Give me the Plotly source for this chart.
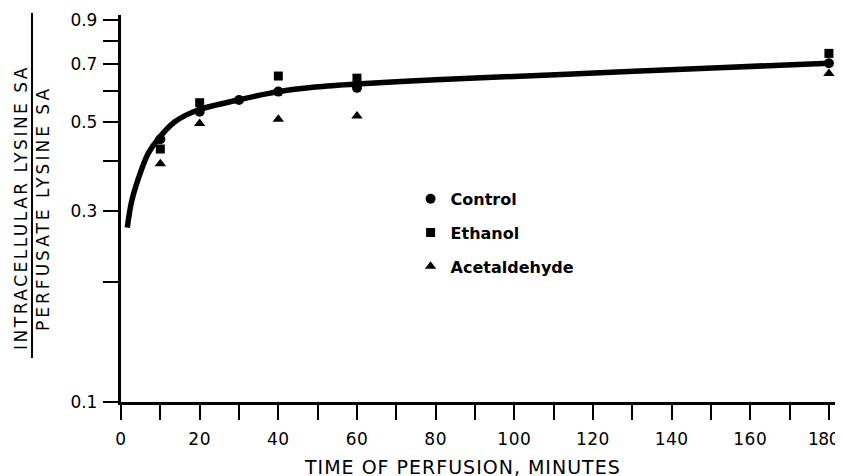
import plotly.graph_objects as go

# ---- data ----
time_control = [10, 20, 30, 40, 60, 180]
control = [0.454, 0.532, 0.569, 0.597, 0.610, 0.703]

time_ethanol = [10, 20, 40, 60, 180]
ethanol = [0.429, 0.560, 0.653, 0.645, 0.744]

time_acet = [10, 20, 40, 60, 180]
acetaldehyde = [0.394, 0.497, 0.509, 0.519, 0.663]

fit_time = [1.6, 2.6, 4.3, 6.9, 9.4, 13.7, 19.6, 29.8, 40, 49.4, 60, 80, 109, 152, 180]
fit_ratio = [0.273, 0.314, 0.359, 0.418, 0.454, 0.502, 0.537, 0.569, 0.597, 0.613,
             0.624, 0.639, 0.657, 0.685, 0.703]

x_tickvals = list(range(0, 181, 10))
x_ticklabels = [str(v) if v % 20 == 0 else "" for v in x_tickvals]
y_tickvals = [0.1, 0.2, 0.3, 0.4, 0.5, 0.6, 0.7, 0.8, 0.9]
y_ticklabels = ["0.1", "", "0.3", "", "0.5", "", "0.7", "", "0.9"]

FONT = "DejaVu Sans"
NBSP = "\u00a0"


def spaced(s, px):
    return f'<span style="letter-spacing:{px}px">{s}</span>' if s else ""


# the last label sits at the page edge: pad it on the right so it stays in view
x_ticktext = [spaced(t, 0.5) for t in x_ticklabels]
x_ticktext[-1] = spaced(x_ticklabels[-1], -0.5) + NBSP + NBSP
y_ticktext = [t + NBSP if t else "" for t in y_ticklabels]

fig = go.Figure()
fig.add_trace(go.Scatter(x=fit_time, y=fit_ratio, mode="lines",
                         line=dict(color="black", width=5.5, shape="spline", smoothing=0.8),
                         showlegend=False, hoverinfo="skip"))
fig.add_trace(go.Scatter(x=time_control, y=control, mode="markers", name="Control",
                         legendgroup="a",
                         marker=dict(symbol="circle", size=10, color="black")))
fig.add_trace(go.Scatter(x=time_ethanol, y=ethanol, mode="markers", name="Ethanol",
                         legendgroup="b",
                         marker=dict(symbol="square", size=9, color="black")))
fig.add_trace(go.Scatter(x=time_acet, y=acetaldehyde, mode="markers", name="Acetaldehyde",
                         legendgroup="c",
                         marker=dict(symbol="triangle-up", size=10, color="black")))

fig.update_layout(
    width=843, height=476,
    margin=dict(l=113, r=15, t=7, b=82, autoexpand=False),
    paper_bgcolor="white", plot_bgcolor="white",
    font=dict(family=FONT, color="black", size=17),
    legend=dict(x=0.405, y=0.569, xanchor="left", yanchor="top",
                font=dict(family=FONT, size=16, weight="bold"),
                bgcolor="rgba(0,0,0,0)", tracegroupgap=10, itemwidth=30),
    xaxis=dict(range=[0, 181.8], tickmode="array", tickvals=x_tickvals,
               ticktext=x_ticktext,
               showline=True, linecolor="black", linewidth=2.5,
               ticks="outside", ticklen=15, tickwidth=2, tickcolor="black",
               ticklabelstandoff=5, ticklabeloverflow="allow", automargin=False,
               showgrid=False, zeroline=False, tickfont=dict(size=17)),
    yaxis=dict(type="log", range=[-1, -0.0325], tickmode="array",
               tickvals=y_tickvals, ticktext=y_ticktext,
               showline=True, linecolor="black", linewidth=2.5,
               ticks="outside", ticklen=15, tickwidth=2, tickcolor="black",
               ticklabelstandoff=-3, automargin=False,
               showgrid=False, zeroline=False, tickfont=dict(size=17)),
)

fig.add_annotation(text=spaced("TIME OF PERFUSION, MINUTES", 1), xref="paper", yref="paper",
                   x=0.477, y=-0.168, xanchor="center", yanchor="middle",
                   showarrow=False, font=dict(size=19))
fig.add_annotation(text=spaced("INTRACELLULAR LYSINE SA", 2.5), xref="paper", yref="paper",
                   x=-0.1399, y=0.504, xanchor="center", yanchor="middle", textangle=-90,
                   showarrow=False, font=dict(size=17))
fig.add_annotation(text=spaced("PERFUSATE LYSINE SA", 3), xref="paper", yref="paper",
                   x=-0.109, y=0.499, xanchor="center", yanchor="middle", textangle=-90,
                   showarrow=False, font=dict(size=17))
fig.add_shape(type="line", xref="paper", yref="paper", x0=-0.1245, x1=-0.1245,
              y0=0.1137, y1=1.005, line=dict(color="black", width=2))

fig.write_html("out.html")
